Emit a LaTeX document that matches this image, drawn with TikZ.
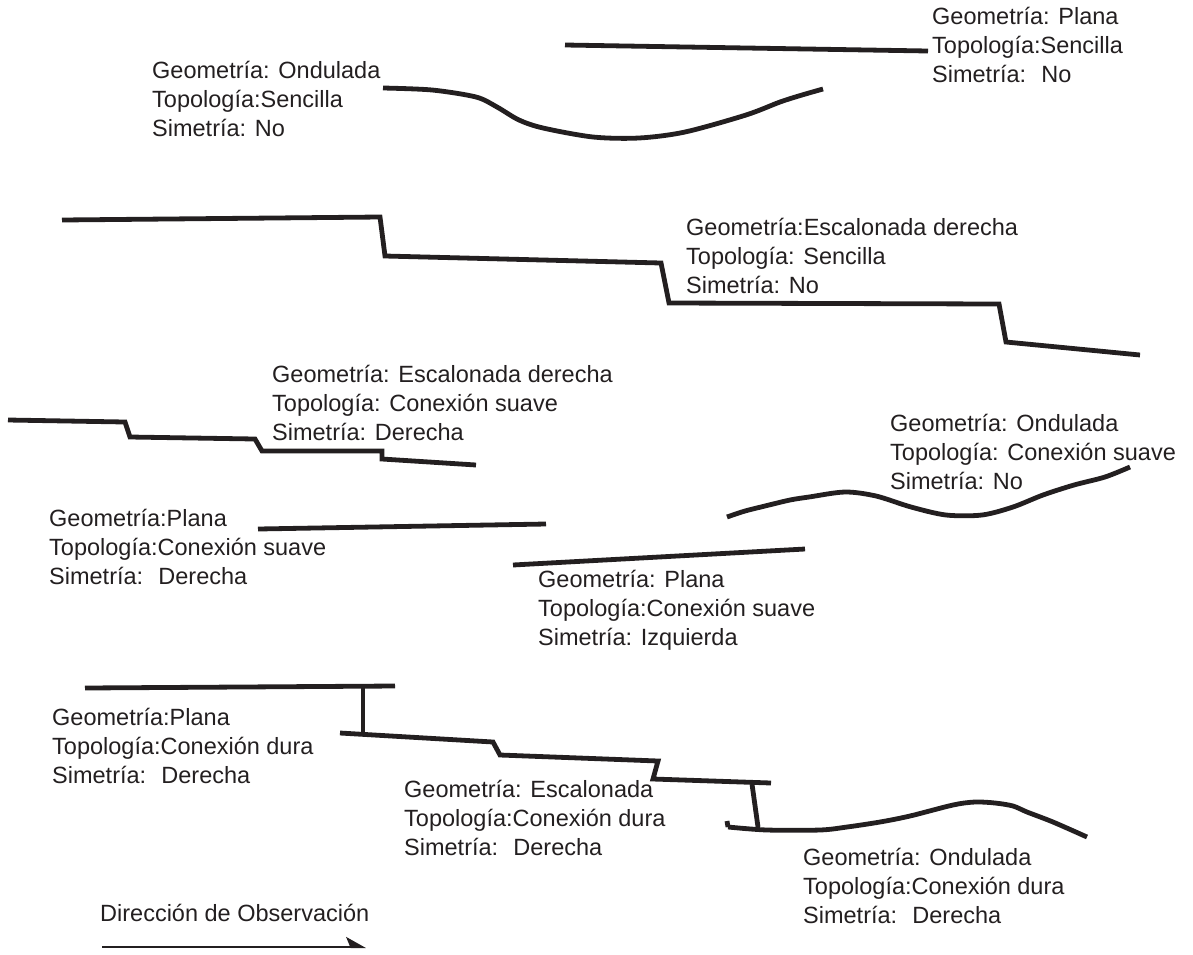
\documentclass[tikz,border=0pt]{standalone}
\usepackage{fontspec}
\setmainfont{Liberation Sans}
\usetikzlibrary{arrows.meta}
\definecolor{ink}{RGB}{35,31,32}
\newcommand\labtrio[6]{%
  \node[lbl] (#1-1) at (#2,#3) {#4};
  \node[lbl] (#1-2) at (#2,{#3+29}) {#5};
  \node[lbl] (#1-3) at (#2,{#3+58}) {#6};
}
\begin{document}
\begin{tikzpicture}[x=1pt,y=-1pt,
  lbl/.style={anchor=base west,inner sep=0pt,text=ink,font=\fontsize{23.5}{28}\selectfont},
  prof/.style={draw=ink,line width=4.8pt,line join=miter},
  wavy/.style={draw=ink,line width=4.8pt,line join=round}]
\useasboundingbox (0,0) rectangle (1193,954);
% labels
\labtrio{A}{152}{78}{Geometría: Ondulada}{Topología:Sencilla}{Simetría: No}
\labtrio{B}{932}{24}{Geometría: Plana}{Topología:Sencilla}{Simetría: \ No}
\labtrio{C}{686}{235}{Geometría:Escalonada derecha}{Topología: Sencilla}{Simetría: No}
\labtrio{D}{272}{382}{Geometría: Escalonada derecha}{Topología: Conexión suave}{Simetría: Derecha}
\labtrio{E}{49}{526}{Geometría:Plana}{Topología:Conexión suave}{Simetría: \ Derecha}
\labtrio{F}{890}{431}{Geometría: Ondulada}{Topología: Conexión suave}{Simetría: No}
\labtrio{G}{538}{587}{Geometría: Plana}{Topología:Conexión suave}{Simetría: Izquierda}
\labtrio{H}{52}{725}{Geometría:Plana}{Topología:Conexión dura}{Simetría: \ Derecha}
\labtrio{I}{404}{797}{Geometría: Escalonada}{Topología:Conexión dura}{Simetría: \ Derecha}
\labtrio{J}{803}{865}{Geometría: Ondulada}{Topología:Conexión dura}{Simetría: \ Derecha}
\node[lbl] (dir) at (100,921) {Dirección de Observación};
% profiles
\draw[wavy] plot[smooth] coordinates {(383,88) (432,90) (476,97) (497,107) (519,120) (543,128) (593,137) (639,138) (685,132) (746,115) (780,102) (802,95) (823,89)};
\draw[prof] (565,45) -- (928,51);
\draw[prof] (62,220) -- (380,217) -- (385,256) -- (661,263) -- (669,303) -- (999,304) -- (1006,342) -- (1140,355);
\draw[prof] (8,420) -- (125,422) -- (130,437) -- (255,439) -- (262,451) -- (382,451) -- (382,459) -- (476,465);
\draw[prof] (258,529) -- (546,524);
\draw[wavy] plot[smooth] coordinates {(727,517) (745,511) (765,506) (790,500) (809,497) (845,492) (876,496) (911,507) (946,515) (982,515) (1013,507) (1043,495) (1074,485) (1105,477) (1130,467)};
\draw[prof] (513,565) -- (805,549);
\draw[prof] (85,688) -- (395,686);
\draw[prof] (363,687) -- (363,735);
\draw[prof] (340,733) -- (493,742) -- (500,755) -- (658,761) -- (653,779) -- (771,783);
\draw[prof] (752,784) -- (758,827);
\draw[wavy] (727,821) -- (728,827) plot[smooth] coordinates {(728,827) (767,830) (820,830) (847,827) (880,822) (910,816) (953,805) (975,802) (995,803) (1013,806) (1027,812) (1053,822) (1087,837)};
% arrow
\coordinate (arrS) at (102,947);
\coordinate (arrE) at (366,947);
\draw[ink,line width=2pt,-{Stealth[length=18pt,width=20pt,harpoon,inset=4pt]}] (arrS) -- (arrE);
\end{tikzpicture}
\end{document}
